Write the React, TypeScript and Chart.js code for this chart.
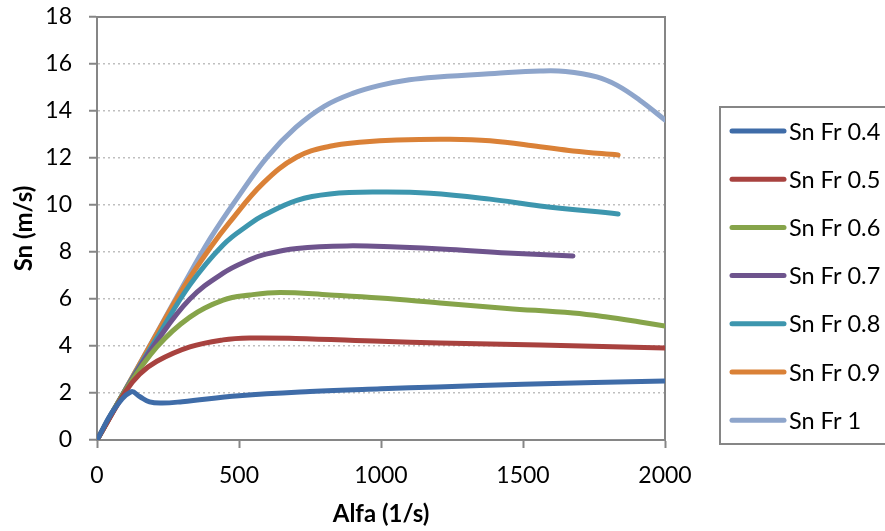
import React, { useEffect, useRef } from "react";
import { Chart, registerables } from "chart.js";

Chart.register(...registerables);

// ---- data ----
const seriesNames = ["Sn Fr 0.4", "Sn Fr 0.5", "Sn Fr 0.6", "Sn Fr 0.7", "Sn Fr 0.8", "Sn Fr 0.9", "Sn Fr 1"];
const seriesColors = ["#3F6CA8", "#A8423F", "#86A44A", "#6E548D", "#3D96AE", "#DA8137", "#8EA5CB"];

const fr04X = [0, 60, 120, 150, 185, 230, 300, 500, 750, 1000, 1200, 1500, 2000];
const fr04Y = [0, 1.3, 2.05, 1.85, 1.62, 1.57, 1.63, 1.88, 2.06, 2.18, 2.26, 2.37, 2.51];

const fr05X = [0, 100, 150, 211, 327, 444, 539, 700, 1000, 1208, 1560, 2000];
const fr05Y = [0, 2.05, 2.8, 3.35, 3.96, 4.26, 4.34, 4.32, 4.2, 4.13, 4.04, 3.91];

const fr06X = [0, 100, 211, 327, 444, 539, 644, 820, 996, 1208, 1444, 1676, 1796, 1912, 2000];
const fr06Y = [0, 2.1, 3.96, 5.23, 5.95, 6.17, 6.28, 6.17, 6.04, 5.83, 5.6, 5.4, 5.23, 5.02, 4.85];

const fr07X = [0, 100, 211, 327, 444, 539, 585, 704, 880, 1056, 1243, 1444, 1676];
const fr07Y = [0, 2.12, 4.2, 6.0, 7.1, 7.68, 7.88, 8.15, 8.26, 8.21, 8.11, 7.96, 7.83];

const fr08X = [0, 100, 211, 327, 444, 539, 585, 704, 820, 996, 1173, 1384, 1560, 1835];
const fr08Y = [0, 2.14, 4.35, 6.6, 8.3, 9.2, 9.55, 10.2, 10.47, 10.55, 10.5, 10.25, 9.96, 9.62];

const fr09X = [0, 100, 200, 300, 400, 468, 585, 704, 820, 937, 1056, 1243, 1384, 1560, 1676, 1835];
const fr09Y = [0, 2.15, 4.3, 6.4, 8.2, 9.28, 10.93, 12.04, 12.5, 12.68, 12.77, 12.8, 12.73, 12.48, 12.3, 12.13];

const fr10X = [35, 100, 200, 300, 400, 500, 600, 700, 800, 900, 1000, 1100, 1200, 1400, 1560, 1650, 1760, 1830, 1910, 2000];
const fr10Y = [0.8, 2.15, 4.32, 6.5, 8.6, 10.4, 12.05, 13.3, 14.2, 14.75, 15.1, 15.33, 15.45, 15.6, 15.7, 15.68, 15.45, 15.1, 14.47, 13.62];

const seriesX = [fr04X, fr05X, fr06X, fr07X, fr08X, fr09X, fr10X];
const seriesY = [fr04Y, fr05Y, fr06Y, fr07Y, fr08Y, fr09Y, fr10Y];

const xMin = 0, xMax = 2000, xStep = 500;
const yMin = 0, yMax = 18, yStep = 2;
const xTitle = "Alfa (1/s)";
const yTitle = "Sn (m/s)";

const FONT = "Lato";
const AXIS_GRAY = "#868686";

const framePlugin = {
  id: "frame",
  beforeDatasetsDraw(chart: any) {
    const { ctx, chartArea } = chart;
    ctx.save();
    ctx.strokeStyle = AXIS_GRAY;
    ctx.lineWidth = 2;
    ctx.beginPath();
    ctx.moveTo(chartArea.left, chartArea.top);
    ctx.lineTo(chartArea.right, chartArea.top);
    ctx.lineTo(chartArea.right, chartArea.bottom);
    ctx.stroke();
    ctx.restore();
  },
};

const legendPlugin = {
  id: "boxLegend",
  afterDraw(chart: any) {
    const { ctx } = chart;
    ctx.save();
    ctx.strokeStyle = AXIS_GRAY;
    ctx.lineWidth = 2;
    ctx.strokeRect(720, 107, 200, 337);
    chart.data.datasets.forEach((ds: any, i: number) => {
      const y = 131 + i * 48.2;
      ctx.strokeStyle = ds.borderColor;
      ctx.lineWidth = 5;
      ctx.lineCap = "round";
      ctx.beginPath();
      ctx.moveTo(732, y);
      ctx.lineTo(784, y);
      ctx.stroke();
      ctx.fillStyle = "#000";
      ctx.font = `23.5px ${FONT}`;
      ctx.textBaseline = "middle";
      ctx.textAlign = "left";
      ctx.fillText(ds.label, 789, y + 1);
    });
    ctx.restore();
  },
};

export default function App() {
  const canvasRef = useRef<HTMLCanvasElement | null>(null);

  useEffect(() => {
    document.body.style.margin = "0";
    const canvas = canvasRef.current;
    if (!canvas) return;
    const datasets = seriesNames.map((name, i) => ({
      label: name,
      data: seriesX[i].map((x, j) => ({ x, y: seriesY[i][j] })),
      borderColor: seriesColors[i],
      backgroundColor: seriesColors[i],
      borderWidth: 5,
      borderCapStyle: "round" as const,
      borderJoinStyle: "round" as const,
      pointRadius: 0,
      pointHoverRadius: 0,
      fill: false,
      tension: 0.4,
    }));

    const chart = new Chart(canvas, {
      type: "line",
      data: { datasets },
      plugins: [framePlugin, legendPlugin],
      options: {
        animation: false,
        responsive: false,
        maintainAspectRatio: false,
        layout: { padding: { top: 17, right: 220, left: 0, bottom: 0 } },
        plugins: {
          legend: { display: false },
          tooltip: { enabled: false },
        },
        scales: {
          x: {
            type: "linear",
            min: xMin,
            max: xMax,
            afterFit: (scale: any) => {
              scale.height = 91;
              scale.paddingTop = 0;
              scale.paddingBottom = 0;
            },
            ticks: {
              stepSize: xStep,
              color: "#000",
              font: { family: FONT, size: 23 },
              padding: 14,
              maxRotation: 0,
              callback: (v: any) => String(v),
            },
            grid: {
              drawOnChartArea: false,
              drawTicks: true,
              tickLength: 8,
              tickColor: AXIS_GRAY,
              tickWidth: 2,
            },
            border: { display: true, color: AXIS_GRAY, width: 2 },
            title: {
              display: true,
              text: xTitle,
              color: "#000",
              font: { family: FONT, size: 24, weight: "bold" },
              padding: { top: 0, bottom: 2 },
            },
          },
          y: {
            type: "linear",
            min: yMin,
            max: yMax,
            afterFit: (scale: any) => {
              scale.width = 97;
              scale.paddingTop = 0;
              scale.paddingBottom = 0;
            },
            ticks: {
              stepSize: yStep,
              color: "#000",
              font: { family: FONT, size: 23 },
              padding: 17,
            },
            grid: {
              drawOnChartArea: true,
              drawTicks: true,
              tickLength: 8,
              color: "#BFBFBF",
              lineWidth: 1.5,
              tickColor: AXIS_GRAY,
              tickWidth: 2,
              tickBorderDash: [],
            },
            border: { display: true, color: AXIS_GRAY, width: 2, dash: [2, 3] },
            title: {
              display: true,
              text: yTitle,
              color: "#000",
              font: { family: FONT, size: 24, weight: "bold" },
              padding: { top: 10, bottom: 0 },
            },
          },
        },
      } as any,
    });
    return () => chart.destroy();
  }, []);

  return (
    <div style={{ width: 885, height: 531, background: "#fff" }}>
      <canvas ref={canvasRef} width={885} height={531} style={{ display: "block" }} />
    </div>
  );
}
